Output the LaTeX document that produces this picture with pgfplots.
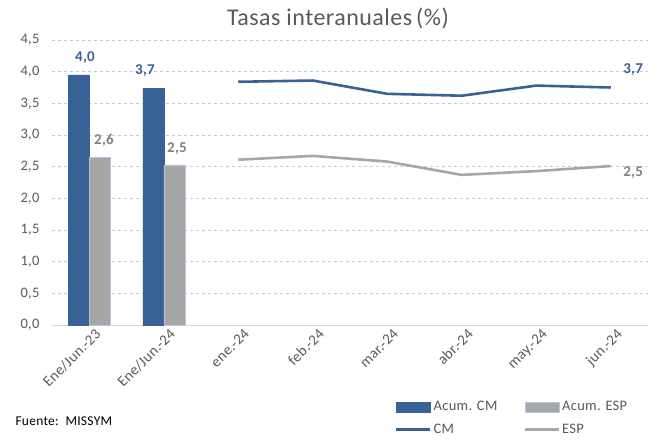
\documentclass[border=0pt]{standalone}
\usepackage{pgfplots}
\pgfplotsset{compat=1.18}
\usepackage{fontspec}
\setmainfont[LetterSpace=2]{Carlito}
\definecolor{cmblue}{RGB}{56,98,150}
\definecolor{espgray}{RGB}{166,166,166}
\definecolor{labgray}{RGB}{128,128,128}
\definecolor{txtgray}{RGB}{89,89,89}
\definecolor{gridblue}{RGB}{185,205,235}
\definecolor{edgeblue}{RGB}{180,200,230}

\begin{document}
\begin{tikzpicture}
\begin{axis}[
    at={(0,0)}, anchor=south west,
    scale only axis,
    width=596pt, height=285pt,
    xmin=-0.5, xmax=7.5,
    ymin=0, ymax=4.5,
    ytick={0,0.5,...,4.5},
    xtick={0,...,7},
    xticklabels={Ene/Jun.-23,Ene/Jun.-24,ene.-24,feb.-24,mar.-24,abr.-24,may.-24,jun.-24},
    xticklabel style={rotate=45, anchor=north east, font=\fontsize{15}{17}\selectfont, text=txtgray, xshift=5pt, yshift=-2pt},
    yticklabel style={font=\fontsize{14.5}{16}\selectfont, text=txtgray, xshift=-9pt},
    /pgf/number format/.cd, fixed, fixed zerofill, precision=1, use comma, assume math mode=true,
    /pgfplots/.cd,
    ymajorgrids=true,
    grid style={dashed, gridblue, line width=0.6pt},
    major tick length=0pt,
    axis x line*=bottom,
    axis y line*=left,
    y axis line style={draw=none},
    x axis line style={draw=black!15, line width=0.8pt, -},
    clip=false,
    legend columns=2,
    legend cell align=left,
    legend style={at={(rel axis cs:0.575,-0.26)}, anchor=north west, draw=none, inner sep=0pt,
        font=\fontsize{14.5}{16}\selectfont, text=txtgray,
        /tikz/every even column/.append style={column sep=24pt},
        row sep=8pt},
]
\addplot[ybar, bar width=21pt, bar shift=-10.5pt, fill=cmblue, draw=cmblue,
    area legend,
    legend image code/.code={\fill[cmblue] (0pt,-5pt) rectangle (34pt,5pt);}]
    coordinates {(0,3.95) (1,3.74)};
\addlegendentry{Acum. CM}
\addplot[ybar, bar width=21pt, bar shift=10.5pt, fill=espgray, draw=edgeblue,
    legend image code/.code={\filldraw[fill=espgray, draw=edgeblue] (0pt,-5pt) rectangle (34pt,5pt);}]
    coordinates {(0,2.65) (1,2.53)};
\addlegendentry{Acum. ESP}
\addplot[cmblue, line width=2.6pt, no marks,
    legend image code/.code={\draw[cmblue, line width=2.8pt] (0pt,0pt) -- (34pt,0pt);}]
    coordinates {(2,3.84) (3,3.86) (4,3.65) (5,3.62) (6,3.78) (7,3.75)};
\addlegendentry{CM}
\addplot[espgray, line width=2.6pt, no marks,
    legend image code/.code={\draw[espgray, line width=2.8pt] (0pt,0pt) -- (34pt,0pt);}]
    coordinates {(2,2.61) (3,2.67) (4,2.58) (5,2.37) (6,2.43) (7,2.51)};
\addlegendentry{ESP}
% data labels
\node[font=\bfseries\fontsize{15}{17}\selectfont, text=cmblue] at (axis cs:-0.057,4.23) {4,0};
\node[font=\bfseries\fontsize{15}{17}\selectfont, text=cmblue] at (axis cs:0.748,4.01) {3,7};
\node[font=\bfseries\fontsize{15}{17}\selectfont, text=labgray] at (axis cs:0.198,2.91) {2,6};
\node[font=\bfseries\fontsize{15}{17}\selectfont, text=labgray] at (axis cs:1.178,2.78) {2,5};
\node[font=\bfseries\fontsize{15}{17}\selectfont, text=cmblue] at (axis cs:7.3,4.03) {3,7};
\node[font=\bfseries\fontsize{15}{17}\selectfont, text=labgray] at (axis cs:7.3,2.40) {2,5};
\node[font=\fontsize{24}{28}\selectfont, text=txtgray] at (rel axis cs:0.5,1) [yshift=22pt, xshift=-12pt] {Tasas interanuales\,(\%)};
\end{axis}
\node[anchor=west, font=\fontsize{13.5}{15}\selectfont, text=black] at (-40pt,-96pt) {Fuente:\, MISSYM};
\pgfresetboundingbox
\useasboundingbox (-52pt,-116pt) rectangle (606pt,325pt);
\end{tikzpicture}
\end{document}
